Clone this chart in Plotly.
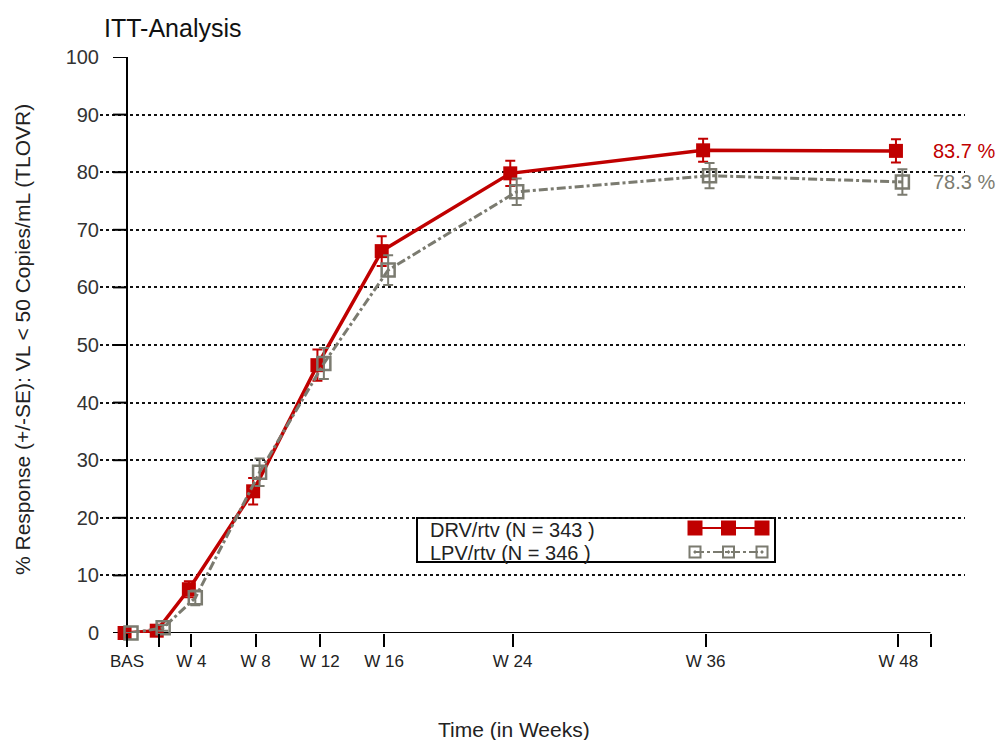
import plotly.graph_objects as go

# ---- data ----
weeks = [0, 2, 4, 8, 12, 16, 24, 36, 48]
drv = [0.0, 0.4, 7.6, 24.6, 46.5, 66.3, 79.8, 83.8, 83.7]
drv_se = [0.0, 0.4, 1.4, 2.3, 2.7, 2.6, 2.2, 2.0, 2.0]
lpv = [0.0, 0.9, 6.1, 27.9, 46.8, 63.0, 76.6, 79.4, 78.3]
lpv_se = [0.0, 0.5, 1.3, 2.4, 2.7, 2.6, 2.3, 2.2, 2.2]
tick_weeks = [0, 2, 4, 8, 12, 16, 24, 36, 48, 50]
tick_text = ["BAS", "", "W 4", "W 8", "W 12", "W 16", "W 24", "W 36", "W 48", ""]
y_ticks = list(range(0, 101, 10))
drv_name = "DRV/rtv (N = 343 )"
lpv_name = "LPV/rtv (N = 346 )"

RED = "#c00000"
GRAY = "#7b7b70"
FONT = "Liberation Sans, Arial, sans-serif"

W, H = 1002, 740
L, R, T, B = 100, 37, 57, 107
PW, PH = W - L - R, H - T - B


def px(x):
    return (x - L) / PW


def py(y):
    return (H - B - y) / PH


fig = go.Figure()

fig.add_trace(go.Scatter(
    x=[w - 0.15 for w in weeks], y=drv, mode="lines+markers", name=drv_name,
    line=dict(color=RED, width=3.5),
    marker=dict(symbol="square", size=14, color=RED),
    error_y=dict(type="data", array=drv_se, color=RED, thickness=2, width=5),
    cliponaxis=False, showlegend=False,
))
fig.add_trace(go.Scatter(
    x=[w + 0.25 for w in weeks], y=lpv, mode="lines+markers", name=lpv_name,
    line=dict(color=GRAY, width=3, dash="dashdot"),
    marker=dict(symbol="square-open", size=13, color=GRAY, line=dict(width=2.5, color=GRAY)),
    error_y=dict(type="data", array=lpv_se, color=GRAY, thickness=2, width=5),
    cliponaxis=False, showlegend=False,
))

# legend samples on an overlay axis in paper-like coordinates
lx = [px(695), px(728.5), px(762)]
fig.add_trace(go.Scatter(
    x=lx, y=[py(528)] * 3, xaxis="x2", yaxis="y2", mode="lines+markers",
    line=dict(color=RED, width=2), marker=dict(symbol="square", size=15, color=RED),
    showlegend=False, hoverinfo="skip", cliponaxis=False,
))
fig.add_trace(go.Scatter(
    x=lx, y=[py(552)] * 3, xaxis="x2", yaxis="y2", mode="lines+markers",
    line=dict(color=GRAY, width=2, dash="dashdot"),
    marker=dict(symbol="square-open-dot", size=11, color=GRAY, line=dict(width=2, color=GRAY)),
    showlegend=False, hoverinfo="skip", cliponaxis=False,
))

x0 = -(127 - L) / 16.07
x1 = (W - R - 127) / 16.07

shapes = [
    dict(type="line", xref="x", yref="y", x0=0, x1=0, y0=0, y1=100,
         line=dict(color="black", width=2), layer="between"),
    dict(type="line", xref="x", yref="y", x0=0, x1=tick_weeks[-1], y0=0, y1=0,
         line=dict(color="black", width=2), layer="between"),
]
for v in y_ticks:
    shapes.append(dict(type="line", xref="x", yref="y", x0=-14 / 16.07, x1=0, y0=v, y1=v,
                       line=dict(color="black", width=2), layer="between"))
# legend box
shapes.append(dict(type="rect", xref="paper", yref="paper", x0=px(417), x1=px(775),
                   y0=py(562), y1=py(518), line=dict(color="black", width=2),
                   fillcolor="white", layer="between"))

annotations = [
    dict(text="ITT-Analysis", xref="paper", yref="paper", x=px(102), y=py(28),
         xanchor="left", yanchor="middle", showarrow=False,
         font=dict(size=25, color="#111", family=FONT)),
    dict(text="% Response (+/-SE): VL < 50 Copies/mL (TLOVR)", xref="paper", yref="paper",
         x=px(22), y=py(340), textangle=-90, xanchor="center", yanchor="middle",
         showarrow=False, font=dict(size=21, color="#222", family=FONT)),
    dict(text="Time (in Weeks)", xref="paper", yref="paper", x=px(514), y=py(729),
         xanchor="center", yanchor="middle", showarrow=False,
         font=dict(size=21, color="#222", family=FONT)),
    dict(text=drv_name, xref="paper", yref="paper", x=px(428), y=py(530),
         xanchor="left", yanchor="middle", showarrow=False,
         font=dict(size=20, color="#222", family=FONT)),
    dict(text=lpv_name, xref="paper", yref="paper", x=px(428), y=py(553),
         xanchor="left", yanchor="middle", showarrow=False,
         font=dict(size=20, color="#222", family=FONT)),
    dict(text=f"{drv[-1]} %", xref="x", yref="y", x=tick_weeks[-1], y=drv[-1],
         xanchor="left", yanchor="middle", showarrow=False,
         font=dict(size=20, color=RED, family=FONT)),
    dict(text=f"{lpv[-1]} %", xref="x", yref="y", x=tick_weeks[-1], y=lpv[-1],
         xanchor="left", yanchor="middle", showarrow=False,
         font=dict(size=20, color=GRAY, family=FONT)),
]

fig.update_layout(
    width=W, height=H, margin=dict(l=L, r=R, t=T, b=B, pad=0),
    paper_bgcolor="white", plot_bgcolor="white",
    font=dict(family=FONT, color="#222"),
    shapes=shapes, annotations=annotations,
    xaxis=dict(range=[x0, x1], tickvals=tick_weeks, ticktext=tick_text,
               ticks="outside", ticklen=13, tickwidth=2, tickcolor="black",
               showgrid=False, zeroline=False, showline=False,
               tickfont=dict(size=17, color="#222", family=FONT)),
    yaxis=dict(range=[0, 100], tickvals=y_ticks, ticks="", ticklen=0,
               showgrid=True, gridcolor="#111", gridwidth=2, griddash="dot",
               zeroline=False, showline=False,
               tickfont=dict(size=20, color="#333", family=FONT)),
    xaxis2=dict(domain=[0, 1], range=[0, 1], overlaying="x", visible=False, fixedrange=True),
    yaxis2=dict(domain=[0, 1], range=[0, 1], overlaying="y", visible=False, fixedrange=True),
)

fig.write_html("out.html", config={"displayModeBar": False},
               post_script="document.body.style.margin='0';document.body.style.overflow='hidden';")
